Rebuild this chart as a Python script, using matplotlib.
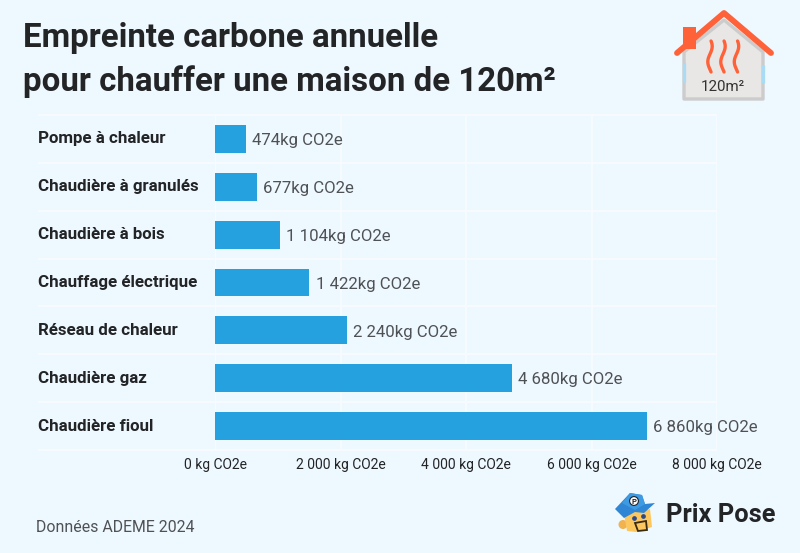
"""Empreinte carbone annuelle du chauffage - maison de 120m2"""

import numpy as np
import matplotlib.pyplot as plt
from matplotlib.patches import Polygon, Circle, Rectangle

W, H = 800, 553
BG = '#EEF8FF'
BLUE = '#26A1DF'
DARK = '#222426'
GREY = '#4F5255'
ORANGE = '#FF6239'

categories = ['Pompe à chaleur', 'Chaudière à granulés', 'Chaudière à bois',
              'Chauffage électrique', 'Réseau de chaleur', 'Chaudière gaz',
              'Chaudière fioul']
# longueurs (les barres ne suivent pas exactement les libellés)
values = [494, 665, 1036, 1503, 2099, 4733, 6884]
value_labels = ['474kg CO2e', '677kg CO2e', '1 104kg CO2e', '1 422kg CO2e',
                '2 240kg CO2e', '4 680kg CO2e', '6 860kg CO2e']
ticks = [0, 2000, 4000, 6000, 8000]
tick_labels = ['0 kg CO2e', '2 000 kg CO2e', '4 000 kg CO2e', '6 000 kg CO2e',
               '8 000 kg CO2e']

plt.rcParams['font.family'] = ['Roboto', 'DejaVu Sans']

fig = plt.figure(figsize=(W / 100, H / 100), dpi=100, facecolor=BG)

# zone du graphique
ax = fig.add_axes([215 / W, 1 - 450 / H, (717 - 215) / W, (450 - 115) / H])
ax.set_facecolor('none')
ax.set_xlim(0, 8000)
ax.set_ylim(len(categories), 0)
y = np.arange(len(categories)) + 0.5

for s in ax.spines.values():
    s.set_visible(False)

line_col = '#F8FCFF'
ax.vlines(ticks, 0, len(categories), color=line_col, lw=1.1, zorder=1)
left = -(215 - 38) / (717 - 215) * 8000
ax.hlines(np.arange(len(categories) + 1), left, 8000, color=line_col, lw=1.4,
          clip_on=False, zorder=1)

ax.barh(y, values, height=0.585, color=BLUE, zorder=2)

for yi, v, lab in zip(y, values, value_labels):
    ax.annotate(lab, (v, yi), xytext=(4.6, -1.2), textcoords='offset points',
                va='center', ha='left', fontsize=12.05, color=GREY)

for yi, cat in zip(y, categories):
    ax.text(left, yi, cat, va='center', ha='left', fontsize=12.2,
            fontweight='bold', color=DARK, clip_on=False)

ax.set_xticks(ticks)
ax.set_xticklabels(tick_labels, fontsize=10, color=DARK)
ax.set_yticks([])
ax.tick_params(axis='x', length=0, pad=6)

# titre et textes en coordonnées pixels
ov = fig.add_axes([0, 0, 1, 1], facecolor='none')
ov.set_xlim(0, W)
ov.set_ylim(H, 0)
ov.axis('off')

ov.text(23, 38.5, 'Empreinte carbone annuelle', fontsize=23.75, fontweight='bold',
        color=DARK, va='center', ha='left')
ov.text(23, 81.5, 'pour chauffer une maison de 120m²', fontsize=23.75, fontweight='bold',
        color=DARK, va='center', ha='left')
ov.text(36, 528, 'Données ADEME 2024', fontsize=11.45, color=GREY, va='center', ha='left')
ov.text(666, 515, 'Prix Pose', fontsize=18.3, fontweight='bold', color=DARK,
        va='center', ha='left')

# icone maison
ov.add_patch(Polygon([(684, 52), (724, 20), (763, 52), (763, 99), (684, 99)],
                     closed=True, fc='#E9E7E5', ec='#CCCCCC', lw=2.4, joinstyle='round', zorder=3))
ov.plot([684, 684], [63, 82], color='#A9DBF5', lw=2.4, zorder=4, solid_capstyle='butt')
ov.plot([763, 763], [65, 83], color='#A9DBF5', lw=2.4, zorder=4, solid_capstyle='butt')
ov.add_patch(Rectangle((683, 27), 13, 22, fc=ORANGE, ec='none', zorder=4))
ov.plot([677, 724, 771], [53, 13, 53], color=ORANGE, lw=4.2, solid_capstyle='round',
        solid_joinstyle='round', zorder=5)
wy = np.linspace(41, 72, 40)
for x0 in (710, 723, 736.5):
    ov.plot(x0 + 2.2 * np.sin((wy - 41) / 31 * 2 * np.pi + 0.5), wy, color=ORANGE, lw=2.4,
            solid_capstyle='round', zorder=5)
ov.text(723, 87, '120m²', fontsize=10.9, color='#333333', ha='center', va='center', zorder=6)

# logo
ov.add_patch(Circle((623, 524.5), 4.5, fc='#F2B24E', ec='none', zorder=3))
ov.add_patch(Polygon([(624, 514), (650, 509), (652, 527), (636, 532), (627, 531)],
                     closed=True, fc='#FCC75E', ec='none', zorder=3))
ov.add_patch(Polygon([(615, 509), (630, 493), (642, 495), (645, 504), (655, 503), (644, 513),
                      (635, 512), (624, 518)],
                     closed=True, fc='#2F86D4', ec='none', zorder=4))
ov.add_patch(Polygon([(622, 503), (630, 493), (642, 495), (645, 504), (635, 510)],
                     closed=True, fc='#3D9BE3', ec='none', zorder=4))
ov.add_patch(Circle((634, 501), 4.4, fc='white', ec='#222222', lw=0.8, zorder=5))
ov.text(634, 501, 'P', fontsize=5.5, fontweight='bold', color='#222222', ha='center',
        va='center', zorder=6)
ov.add_patch(Polygon([(635, 523), (646, 521), (647, 530), (638, 531)], closed=True,
                     fc='#FCC75E', ec='#3A2A10', lw=1.3, zorder=5))
ov.plot([634, 643], [518, 516], ls='none', marker='o', ms=2.4, color='#2A4A8A', zorder=5)

fig.savefig('out.png', dpi=100, facecolor=BG)
